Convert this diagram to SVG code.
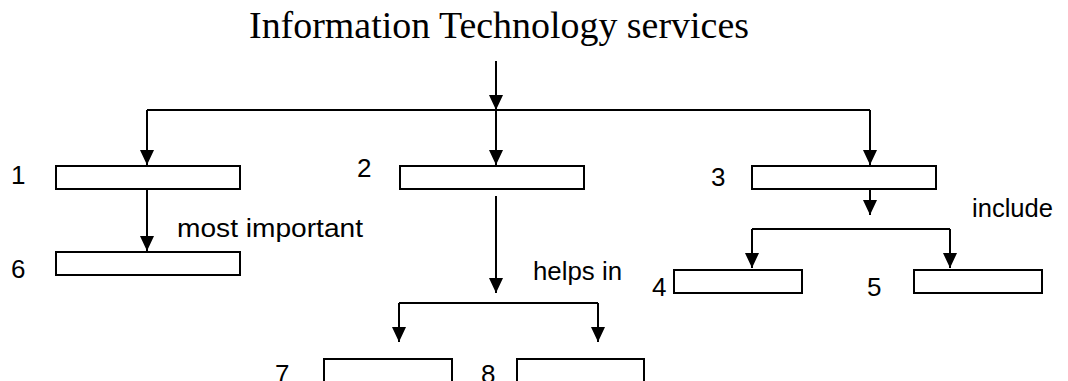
<svg xmlns="http://www.w3.org/2000/svg" width="1068" height="381" viewBox="0 0 1068 381">
<style>
.box{fill:#fff;stroke:#000;stroke-width:2}
.ln{fill:none;stroke:#000;stroke-width:2}
.lbl{font-family:"Liberation Sans",Arial,sans-serif;font-size:26px;fill:#000}
.title{font-family:"Liberation Serif","Times New Roman",serif;font-size:37px;fill:#000}
</style>
<defs>
<marker id="ah" viewBox="0 0 15 14" refX="15" refY="7" markerWidth="15" markerHeight="14" orient="auto" markerUnits="userSpaceOnUse"><path d="M0,0 L15,7 L0,14 z" fill="#000"/></marker>
</defs>
<rect width="1068" height="381" fill="#fff"/>
<g id="title"><text class="title" x="249" y="38" textLength="500" lengthAdjust="spacingAndGlyphs">Information Technology services</text></g>
<g id="connectors">
<path class="ln" d="M496 61 V110" marker-end="url(#ah)"/>
<path class="ln" d="M147 110 H870"/>
<path class="ln" d="M496 110 V165" marker-end="url(#ah)"/>
<path class="ln" d="M147 110 V165" marker-end="url(#ah)"/>
<path class="ln" d="M870 110 V165" marker-end="url(#ah)"/>
<path class="ln" d="M147 190 V251" marker-end="url(#ah)"/>
<path class="ln" d="M496 196 V293" marker-end="url(#ah)"/>
<path class="ln" d="M399 303 H598"/>
<path class="ln" d="M399 303 V342" marker-end="url(#ah)"/>
<path class="ln" d="M598 303 V342" marker-end="url(#ah)"/>
<path class="ln" d="M870 190 V215" marker-end="url(#ah)"/>
<path class="ln" d="M752 229 H950"/>
<path class="ln" d="M752 229 V268" marker-end="url(#ah)"/>
<path class="ln" d="M950 229 V268" marker-end="url(#ah)"/>
<text class="lbl" x="177" y="237" textLength="186" lengthAdjust="spacingAndGlyphs">most important</text>
<text class="lbl" x="533" y="280" textLength="89" lengthAdjust="spacingAndGlyphs">helps in</text>
<text class="lbl" x="972" y="217" textLength="81" lengthAdjust="spacingAndGlyphs">include</text>
</g>
<g id="node1"><rect class="box" x="56" y="166" width="184" height="23"/><text class="lbl" x="11" y="184">1</text></g>
<g id="node2"><rect class="box" x="400" y="166" width="184" height="23"/><text class="lbl" x="357" y="177">2</text></g>
<g id="node3"><rect class="box" x="752" y="166" width="184" height="23"/><text class="lbl" x="711" y="186">3</text></g>
<g id="node4"><rect class="box" x="674" y="270" width="128" height="23"/><text class="lbl" x="652" y="296">4</text></g>
<g id="node5"><rect class="box" x="914" y="270" width="128" height="23"/><text class="lbl" x="867" y="296">5</text></g>
<g id="node6"><rect class="box" x="56" y="252" width="184" height="23"/><text class="lbl" x="11" y="278">6</text></g>
<g id="node7"><rect class="box" x="324" y="359" width="128" height="30"/><text class="lbl" x="275" y="383">7</text></g>
<g id="node8"><rect class="box" x="517" y="359" width="127" height="30"/><text class="lbl" x="481" y="383">8</text></g>
</svg>
